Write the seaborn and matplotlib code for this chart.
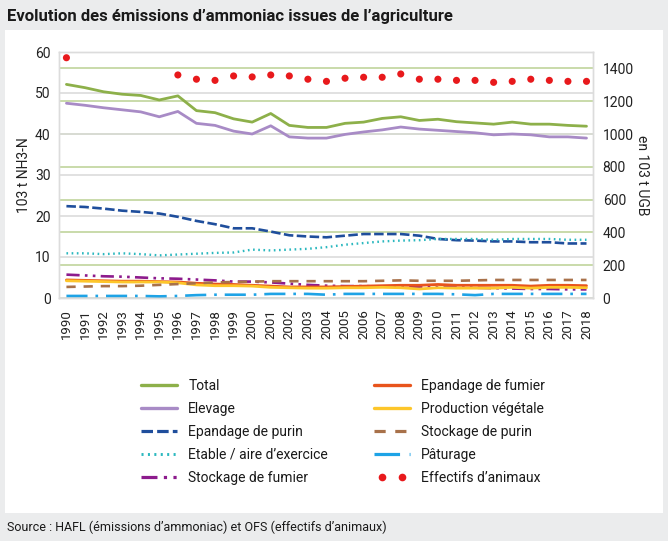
import numpy as np
import pandas as pd
import matplotlib
matplotlib.use("Agg")
import matplotlib.pyplot as plt
from matplotlib.lines import Line2D
from matplotlib.patches import Rectangle
from matplotlib.legend_handler import HandlerLine2D
import seaborn as sns

years = list(range(1990, 2019))

total = [52.1, 51.3, 50.3, 49.7, 49.4, 48.3, 49.3, 45.7, 45.2, 43.7, 42.9, 45.0, 42.1, 41.6, 41.6,
         42.6, 42.9, 43.8, 44.2, 43.3, 43.6, 43.0, 42.7, 42.4, 42.9, 42.4, 42.4, 42.1, 41.9]
elevage = [47.5, 47.0, 46.4, 45.9, 45.4, 44.2, 45.5, 42.6, 42.1, 40.7, 40.0, 42.0, 39.3, 39.0, 39.0,
           39.9, 40.5, 41.0, 41.7, 41.2, 40.9, 40.6, 40.3, 39.8, 40.0, 39.8, 39.3, 39.3, 39.0]
epandage_purin = [22.4, 22.2, 21.8, 21.3, 21.0, 20.6, 19.8, 18.8, 18.0, 17.0, 17.0, 16.2, 15.3, 15.0, 14.8,
                  15.2, 15.6, 15.6, 15.6, 15.2, 14.4, 14.1, 14.0, 13.8, 13.8, 13.6, 13.6, 13.3, 13.3]
etable = [10.9, 10.9, 10.7, 10.9, 10.7, 10.4, 10.6, 10.8, 11.0, 11.1, 11.8, 11.6, 11.8, 12.0, 12.4,
          13.0, 13.4, 13.8, 14.0, 14.1, 14.4, 14.4, 14.4, 14.2, 14.4, 14.4, 14.4, 14.2, 14.2]
stockage_fumier = [5.7, 5.5, 5.3, 5.2, 5.0, 4.8, 4.7, 4.5, 4.3, 4.0, 4.0, 3.8, 3.5, 3.2, 3.0,
                   2.9, 2.9, 2.8, 2.8, 2.7, 2.6, 2.6, 2.5, 2.4, 2.3, 2.2, 2.2, 2.1, 2.1]
epandage_fumier = [4.4, 4.3, 4.2, 4.1, 4.1, 4.0, 3.9, 3.6, 3.4, 3.3, 3.1, 2.9, 2.7, 2.7, 2.7,
                   2.8, 2.9, 3.0, 3.1, 3.1, 3.3, 3.1, 3.1, 3.1, 3.1, 2.9, 3.1, 3.1, 3.0]
production_vegetale = [4.2, 4.1, 4.0, 3.9, 3.9, 3.9, 3.7, 3.2, 3.0, 3.0, 2.9, 2.6, 2.5, 2.4, 2.4,
                       2.5, 2.5, 2.6, 2.5, 2.2, 2.5, 2.4, 2.4, 2.4, 2.6, 2.4, 2.6, 2.6, 2.5]
stockage_purin = [2.7, 2.8, 2.9, 2.9, 3.0, 3.2, 3.4, 3.6, 3.8, 3.9, 4.0, 4.1, 4.1, 4.1, 4.1,
                  4.1, 4.1, 4.2, 4.3, 4.2, 4.2, 4.2, 4.3, 4.4, 4.4, 4.4, 4.4, 4.4, 4.4]
paturage = [0.5, 0.5, 0.5, 0.5, 0.5, 0.4, 0.5, 0.7, 0.8, 0.8, 0.8, 1.0, 1.0, 1.0, 0.8,
            1.0, 1.0, 1.0, 1.0, 1.0, 1.0, 0.9, 0.7, 1.0, 1.0, 1.0, 1.0, 1.0, 1.0]
effectifs = [1465, np.nan, np.nan, np.nan, np.nan, np.nan, 1360, 1334, 1327, 1354, 1348, 1360, 1354, 1334, 1321,
             1340, 1346, 1346, 1366, 1334, 1334, 1327, 1327, 1315, 1321, 1334, 1327, 1321, 1321]

left_ticks = [0, 10, 20, 30, 40, 50, 60]
right_ticks = [0, 200, 400, 600, 800, 1000, 1200, 1400]

sns.set_theme(style="white")
plt.rcParams['font.family'] = ['Roboto', 'DejaVu Sans']

fig = plt.figure(figsize=(6.68, 5.41), dpi=100)
fig.patch.set_facecolor('#ebeced')
fig.patches.append(Rectangle((5 / 668, 1 - 513 / 541), 658 / 668, 483 / 541,
                             transform=fig.transFigure, facecolor='white', edgecolor='none', zorder=0))

ax = fig.add_axes([59 / 668, 1 - 298 / 541, (593 - 59) / 668, (298 - 52) / 541])
ax2 = ax.twinx()
ax.set_zorder(2)
ax2.set_zorder(1)
ax.patch.set_visible(False)
ax2.patch.set_facecolor('white')

series = [
    ("Total", total, '#8db04a', '-', 2.0),
    ("Elevage", elevage, '#a88bc6', '-', 2.0),
    ("Epandage de purin", epandage_purin, '#1f4e9c', (0, (3.6, 1.3)), 1.9),
    ("Etable / aire d’exercice", etable, '#2bb8bf', (0, (0.7, 1.5)), 1.7),
    ("Stockage de fumier", stockage_fumier, '#8d1b8d', (0, (5, 2, 1, 2, 1, 2)), 1.9),
    ("Epandage de fumier", epandage_fumier, '#e8541c', '-', 2.0),
    ("Production végétale", production_vegetale, '#fdc62a', '-', 2.0),
    ("Stockage de purin", stockage_purin, '#a8714a', (0, (3.5, 3.0)), 1.9),
    ("Pâturage", paturage, '#1ea3e6', (0, (8, 3, 1, 3)), 1.9),
]

df = pd.DataFrame({"year": years})
for name, vals, color, ls, lw in series:
    df[name] = vals
    sns.lineplot(x=df["year"], y=df[name], ax=ax, color=color, linestyle=ls, linewidth=lw)

df["Effectifs"] = effectifs
sns.scatterplot(x=df["year"], y=df["Effectifs"], ax=ax2, color='#e8191c', s=26, edgecolor='none')

ax.set_xlim(1989.6, 2018.35)
ax.set_ylim(0, 60)
ax2.set_ylim(0, 1500)
ax.set_yticks(left_ticks)
ax2.set_yticks(right_ticks)
ax.set_xticks(years)
ax.set_xticklabels([str(y) for y in years], rotation=90, fontsize=9.5, color='#222222')
ax.tick_params(axis='x', length=0, pad=8)
ax.tick_params(axis='y', length=0, pad=6, labelsize=10, labelcolor='#222222')
ax2.tick_params(axis='y', length=0, pad=7, labelsize=10, labelcolor='#222222')

ax.yaxis.grid(True, color='#dcdcdc', linewidth=1.2)
ax.xaxis.grid(False)
ax2.yaxis.grid(True, color='#c9dbaa', linewidth=1.4)
ax2.xaxis.grid(False)
for a in (ax, ax2):
    for sp in a.spines.values():
        sp.set_color('#dcdcdc')
        sp.set_linewidth(1.0)

ax.set_xlabel("")
ax.set_ylabel("103 t NH3-N", fontsize=10, color='#222222', labelpad=3)
ax2.set_ylabel("en 103 t UGB", fontsize=10, color='#222222', rotation=270, labelpad=11)

fig.text(7 / 668, 1 - 17 / 541, "Evolution des émissions d’ammoniac issues de l’agriculture",
         fontsize=12, fontweight='bold', color='#1a1a1a', va='center', ha='left')
fig.text(7 / 668, 1 - 527 / 541, "Source : HAFL (émissions d’ammoniac) et OFS (effectifs d’animaux)",
         fontsize=9, color='#1a1a1a', va='center', ha='left')

handles = []
for name, vals, color, ls, lw in series:
    handles.append(Line2D([0], [0], color=color, linestyle=ls, linewidth=lw + 0.4, label=name))
dots_handle = Line2D([0], [0], color='#e8191c', linestyle='none', marker='o', markersize=5.5,
                     markeredgewidth=0, label="Effectifs d’animaux")
handles.append(dots_handle)

leg_kw = dict(frameon=False, fontsize=10, handlelength=2.6, handletextpad=0.8,
              labelspacing=0.64, borderpad=0, borderaxespad=0, loc='upper left')
leg1 = fig.legend(handles=handles[:5], bbox_to_anchor=(141 / 668, 1 - 379 / 541), **leg_kw)
leg2 = fig.legend(handles=handles[5:], bbox_to_anchor=(374 / 668, 1 - 379 / 541),
                  handler_map={dots_handle: HandlerLine2D(numpoints=2, marker_pad=0.55)}, **leg_kw)
for leg in (leg1, leg2):
    for t in leg.get_texts():
        t.set_color('#1a1a1a')

fig.savefig("out.png", dpi=100, facecolor=fig.get_facecolor())
